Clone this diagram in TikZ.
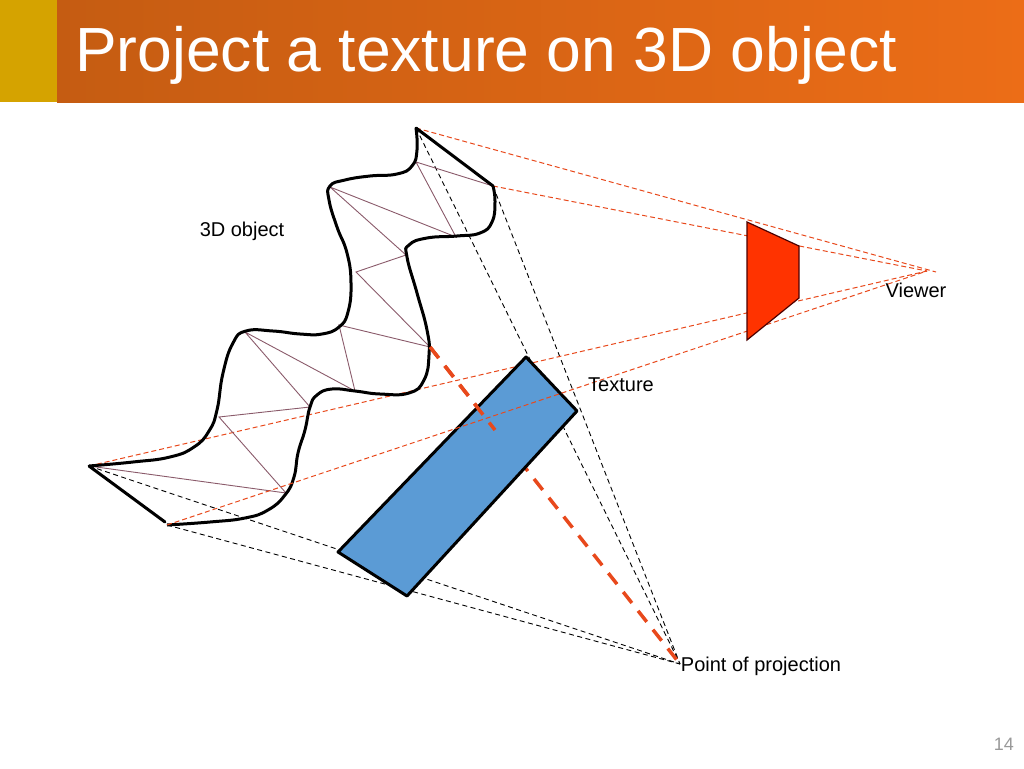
\documentclass[tikz,border=0pt]{standalone}
\usepackage{fontspec}
\setmainfont{Liberation Sans}
\definecolor{bandleft}{HTML}{C55C12}
\definecolor{bandright}{HTML}{EC6D17}
\definecolor{bandbox}{HTML}{D5A300}
\definecolor{rayred}{HTML}{E8491C}
\definecolor{meshline}{HTML}{8A5A6A}
\definecolor{viewerred}{HTML}{FF3300}
\definecolor{textureblue}{HTML}{5B9BD5}
\tikzset{
	x=1pt, y=-1pt,
	outline/.style={line width=3pt, line join=round},
	mesh/.style={meshline, line width=0.9pt},
	redray/.style={rayred, line width=1pt, dash pattern=on 5pt off 3pt},
	blackray/.style={black, line width=0.9pt, dash pattern=on 5pt off 3.5pt},
	centerray/.style={rayred, line width=3.5pt, dash pattern=on 14pt off 10pt},
	label/.style={font=\fontsize{20}{24}\selectfont, inner sep=0pt},
}
\begin{document}
\begin{tikzpicture}
	\useasboundingbox (0,0) rectangle (1024,768);

	\shade[left color=bandleft, right color=bandright] (57,0) rectangle (1024,102);
	\fill[bandbox] (0,0) rectangle (57,102);
	\node[anchor=base west, inner sep=0pt, white, font=\fontsize{62.4}{70}\selectfont] (title) at (75,71) {Project a texture on 3D object};
	\node[anchor=base east, inner sep=0pt, black!40, font=\fontsize{18}{22}\selectfont] (pagenum) at (1014,750) {14};

	\coordinate (topa) at (416,128);
	\coordinate (topb) at (493,186);
	\coordinate (lowa) at (89,466);
	\coordinate (lowb) at (167,525);
	\coordinate (center) at (430,347);
	\coordinate (eye) at (927,271);
	\coordinate (eyetip) at (936,272);
	\coordinate (proj) at (680,664);

	% rays to the point of projection
	\draw[blackray] (topa) -- (proj);
	\draw[blackray] (topb) -- (proj);
	\draw[blackray] (lowa) -- (proj);
	\draw[blackray] (lowb) -- (proj);
	\draw[centerray] (center) -- (proj);

	% rays to the viewer
	\draw[redray] (topa) -- (eyetip);
	\draw[redray] (topb) -- (eye);
	\draw[redray] (lowa) -- (eye);

	% mesh
	\coordinate (ma) at (416,162);
	\coordinate (mb) at (456,237);
	\coordinate (mc) at (330,187);
	\coordinate (md) at (406,255);
	\coordinate (me) at (356,272);
	\coordinate (mf) at (339,325);
	\coordinate (mg) at (355,391);
	\coordinate (mh) at (245,332);
	\coordinate (mi) at (310,407);
	\coordinate (mj) at (219,417);
	\coordinate (mk) at (286,493);
	\draw[mesh] (topb) -- (ma) -- (mb) -- (mc) -- (md) -- (me) -- (center) -- (mf) -- (mg) -- (mh) -- (mi) -- (mj) -- (mk) -- (lowa);

	% object outline
	\draw[outline] plot[smooth, tension=0.8] coordinates {(topa) (417,150) (412,166) (397,174) (370,176) (345,180) (330,186) (329,200) (337,227) (347,253) (351,283) (348,312) (339,327) (322,334) (300,334) (273,331) (246,331) (233,343) (223,373) (217,410) (209,431) (194,447) (170,457) (133,462) (lowa)};
	\draw[outline] plot[smooth, tension=0.8] coordinates {(topb) (495,202) (492,222) (480,233) (457,236) (427,238) (409,245) (407,257) (417,293) (427,330) (429,355) (424,380) (409,393) (380,394) (355,391) (332,389) (317,395) (310,407) (305,430) (298,453) (294,477) (285,495) (268,510) (245,518) (210,522) (lowb)};
	\draw[outline, line cap=round] (topa) -- (topb);
	\draw[outline, line cap=round] (lowa) -- (165,522);

	% texture and viewer
	\draw[outline, fill=textureblue] (526,357) -- (577,411) -- (407,596) -- (338,552) -- cycle;
	\draw[redray] (lowb) -- (eye);
	\draw[centerray] (center) -- (495,430);
	\draw[fill=viewerred, draw=black!70!red, line width=1.2pt] (747,222) -- (799,246) -- (799,298) -- (747,340) -- cycle;

	\node[label] (objlabel) at (242,231.5) {3D object};
	\node[label] (texlabel) at (621,385) {Texture};
	\node[label] (viewlabel) at (916,290.5) {Viewer};
	\node[label] (projlabel) at (761,666.5) {Point of projection};
\end{tikzpicture}
\end{document}
